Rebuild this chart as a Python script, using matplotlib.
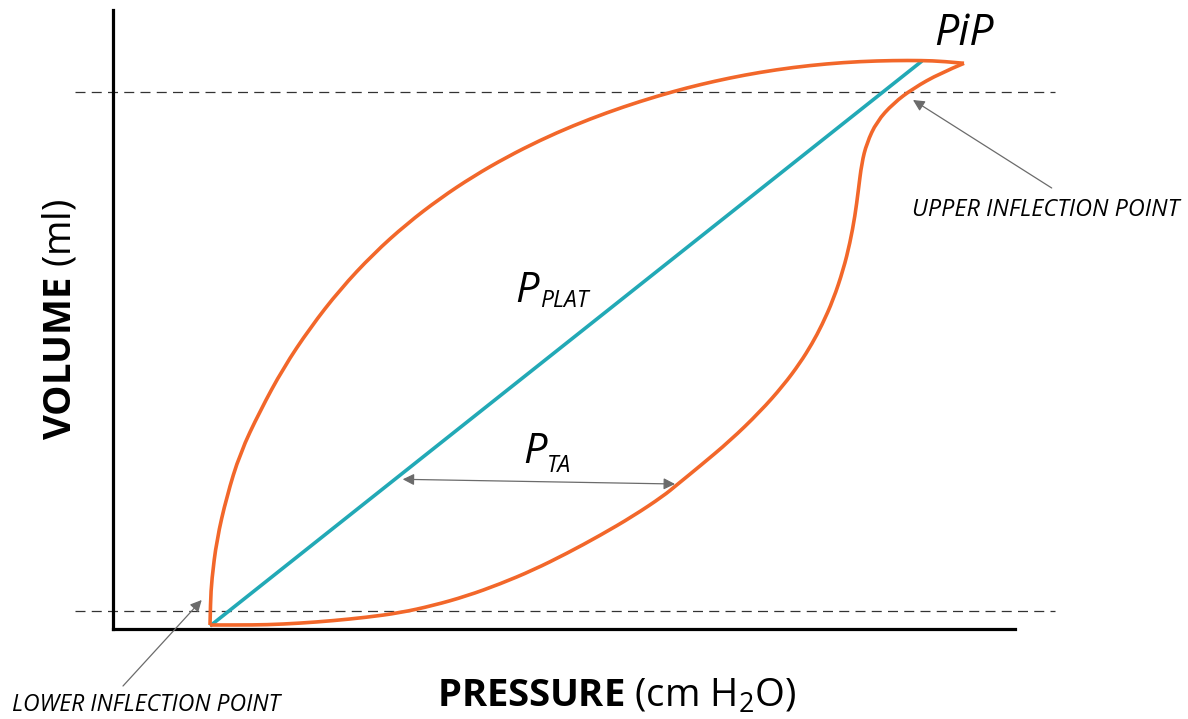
import matplotlib
matplotlib.use("Agg")
import matplotlib.pyplot as plt
from matplotlib.path import Path
from matplotlib.patches import PathPatch

plt.rcParams['font.family'] = ['Open Sans', 'DejaVu Sans']
plt.rcParams['mathtext.fontset'] = 'custom'
plt.rcParams['mathtext.rm'] = 'Open Sans'
plt.rcParams['mathtext.bf'] = 'Open Sans:bold'
plt.rcParams['mathtext.it'] = 'Open Sans:italic'

# ---- data (schematic units: pressure, volume) ----
# deflation limb (upper curve)
upper_p = [9.7, 9.75, 9.87, 10.37, 11.37, 12.7, 14.7, 17.03, 19.7, 22.7, 26.03,
           29.37, 32.7, 36.03, 39.37, 42.7, 46.03, 49.37, 52.7, 56.03, 58.7,
           61.7, 64.7, 68.0, 71.37, 74.7, 78.03, 80.9, 83.0, 85.1]
upper_v = [0.4, 2.7, 4.9, 8.9, 13.23, 17.57, 21.8, 26.1, 30.1, 33.95, 37.51,
           40.51, 43.06, 45.27, 47.19, 48.87, 50.34, 51.63, 52.76, 53.75, 54.44,
           55.11, 55.67, 56.16, 56.52, 56.75, 56.85, 56.85, 56.77, 56.57]

# inflation limb (lower curve)
lower_p = [9.7, 12.5, 15.37, 18.7, 22.0, 25.37, 28.7, 32.03, 35.37, 38.7, 42.03,
           45.37, 48.7, 52.03, 55.03, 56.37, 58.7, 61.7, 64.7, 67.03, 68.7, 69.9,
           70.9, 72.03, 73.03, 73.7, 74.2, 74.53, 74.87, 75.37, 76.37, 78.03,
           80.03, 82.7, 85.1]
lower_v = [0.4, 0.4, 0.42, 0.58, 0.83, 1.17, 1.62, 2.35, 3.3, 4.5, 5.9,
           7.55, 9.35, 11.3, 13.3, 14.4, 16.3, 18.82, 21.72, 24.35, 26.6, 28.52,
           30.4, 32.94, 35.94, 38.62, 41.32, 43.83, 46.58, 48.57, 50.73, 52.57,
           54.07, 55.57, 56.57]

# plateau pressure line
plat_p = [9.7, 80.9]
plat_v = [0.3, 56.8]

upper_inflection_v = 53.7
lower_inflection_v = 1.8
dash_span = [-3.8, 94.2]

pta_left = (28.97, 14.97)
pta_right = (56.2, 14.5)
uip_tip, uip_tail = (80.0, 52.9), (93.87, 44.1)
lip_tip, lip_tail = (8.87, 2.9), (1.0, -5.7)

ORANGE = '#F2672A'
TEAL = '#22A9B6'
GREY = '#6b6b6b'


def smooth_path(xs, ys):
    """Quadratic B-spline style path using the read points as control points."""
    pts = list(zip(xs, ys))
    verts = [pts[0]]
    codes = [Path.MOVETO]
    n = len(pts)
    for i in range(1, n - 1):
        if i < n - 2:
            end = ((pts[i][0] + pts[i + 1][0]) / 2, (pts[i][1] + pts[i + 1][1]) / 2)
        else:
            end = pts[n - 1]
        verts += [pts[i], end]
        codes += [Path.CURVE3, Path.CURVE3]
    return Path(verts, codes)


fig = plt.figure(figsize=(11.88, 7.19), dpi=100)
ax = fig.add_axes([113/1188, (719-629)/719, 902/1188, 619/719])
ax.set_xlim(0, 90.2)
ax.set_ylim(0, 61.9)
for s in ['top', 'right']:
    ax.spines[s].set_visible(False)
for s in ['left', 'bottom']:
    ax.spines[s].set_linewidth(2.3)
    ax.spines[s].set_color('black')
ax.set_xticks([])
ax.set_yticks([])

# dashed inflection lines
for v in (upper_inflection_v, lower_inflection_v):
    ax.plot(dash_span, [v, v], color='#333333', lw=0.9, dashes=(8, 5),
            clip_on=False, zorder=1)

ax.plot(plat_p, plat_v, color=TEAL, lw=2.6, solid_capstyle='butt', zorder=3)
for xs, ys in ((upper_p, upper_v), (lower_p, lower_v)):
    ax.add_patch(PathPatch(smooth_path(xs, ys), facecolor='none', edgecolor=ORANGE,
                           lw=2.6, joinstyle='round', capstyle='butt', zorder=4))

ap1 = dict(arrowstyle='-|>', color=GREY, lw=0.9, mutation_scale=17,
           shrinkA=0, shrinkB=0)
ax.annotate('', xy=uip_tip, xytext=uip_tail, arrowprops=ap1, annotation_clip=False)
ax.annotate('', xy=lip_tip, xytext=lip_tail, arrowprops=ap1, annotation_clip=False)
ap2 = dict(arrowstyle='<|-|>', color=GREY, lw=0.9, mutation_scale=17,
           shrinkA=0, shrinkB=0)
ax.annotate('', xy=pta_right, xytext=pta_left, arrowprops=ap2, annotation_clip=False)

# texts
ax.text(82.1, 58.4, 'PiP', fontsize=31, style='italic', ha='left', va='baseline')
ax.text(40.2, 32.7, 'P', fontsize=30, style='italic', ha='left', va='baseline')
ax.text(42.7, 32.2, 'PLAT', fontsize=16.5, style='italic', ha='left', va='baseline')
ax.text(41.0, 16.6, 'P', fontsize=30, style='italic', ha='left', va='baseline')
ax.text(43.4, 15.7, 'TA', fontsize=16.5, style='italic', ha='left', va='baseline')
ax.text(79.9, 41.3, 'UPPER INFLECTION POINT', fontsize=16.8, style='italic',
        ha='left', va='baseline')
ax.text(-10.1, -8.2, 'LOWER INFLECTION POINT', fontsize=16.6, style='italic',
        ha='left', va='baseline')
ax.text(50.35, -7.8, r'$\mathbf{PRESSURE}$ (cm H$_2$O)', fontsize=27.5,
        ha='center', va='baseline')
ax.text(-4.3, 31.0, r'$\mathbf{VOLUME}$ (ml)', fontsize=27.5, rotation=90,
        rotation_mode='anchor', ha='center', va='baseline')

fig.savefig('out.png', dpi=100)
